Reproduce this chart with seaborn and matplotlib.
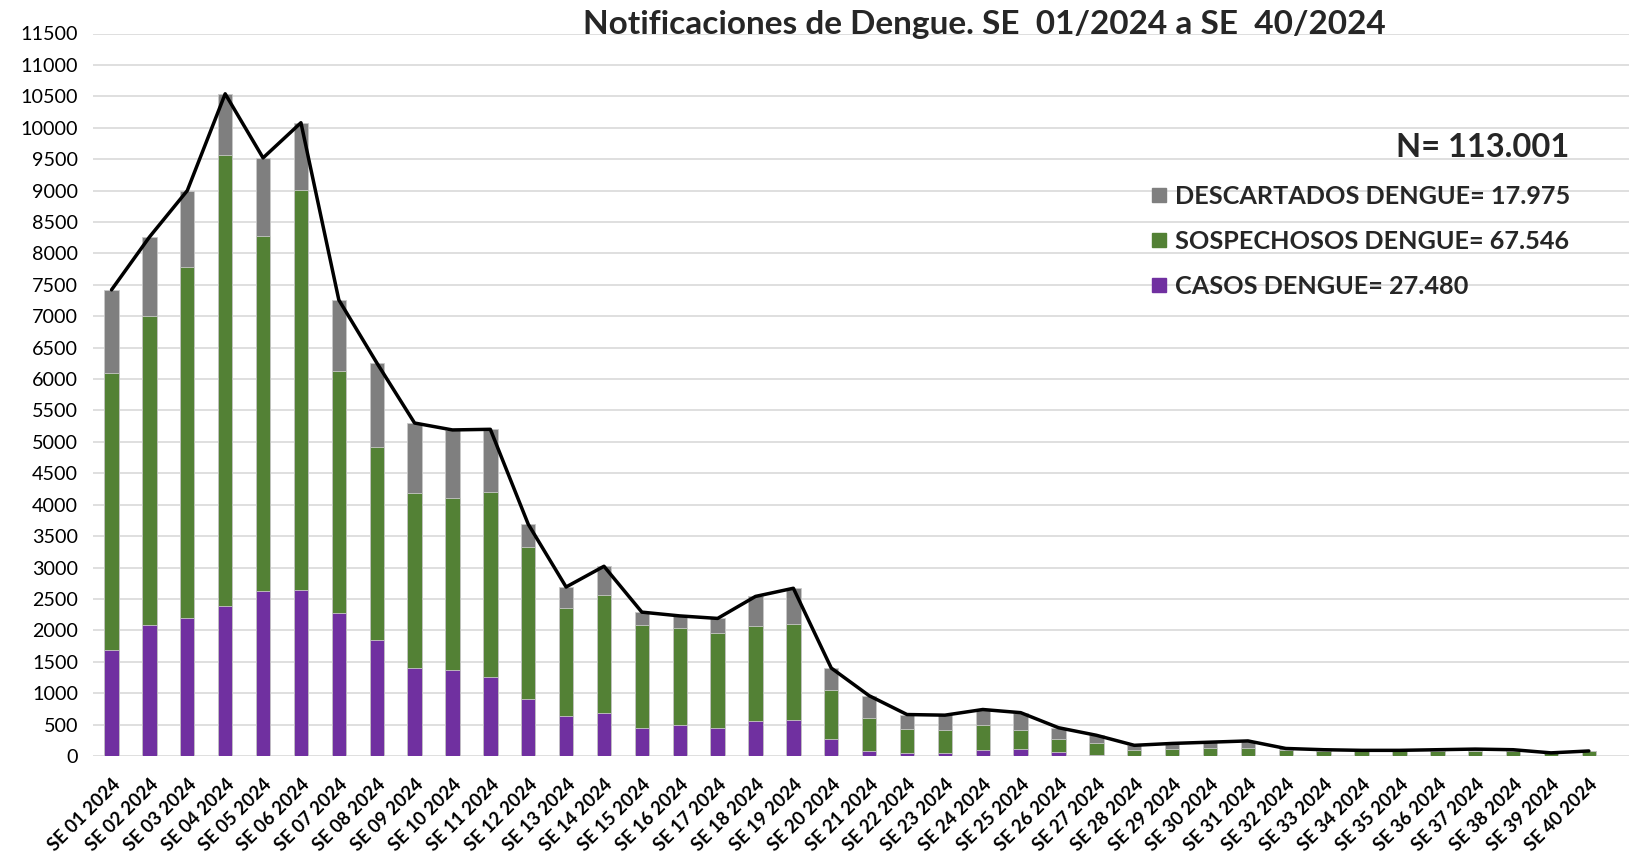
import matplotlib
matplotlib.use('Agg')
import matplotlib.pyplot as plt
import seaborn as sns
import numpy as np
import pandas as pd
from matplotlib.lines import Line2D

# semanas epidemiologicas
semanas = ['SE 01 2024', 'SE 02 2024', 'SE 03 2024', 'SE 04 2024', 'SE 05 2024',
           'SE 06 2024', 'SE 07 2024', 'SE 08 2024', 'SE 09 2024', 'SE 10 2024',
           'SE 11 2024', 'SE 12 2024', 'SE 13 2024', 'SE 14 2024', 'SE 15 2024',
           'SE 16 2024', 'SE 17 2024', 'SE 18 2024', 'SE 19 2024', 'SE 20 2024',
           'SE 21 2024', 'SE 22 2024', 'SE 23 2024', 'SE 24 2024', 'SE 25 2024',
           'SE 26 2024', 'SE 27 2024', 'SE 28 2024', 'SE 29 2024', 'SE 30 2024',
           'SE 31 2024', 'SE 32 2024', 'SE 33 2024', 'SE 34 2024', 'SE 35 2024',
           'SE 36 2024', 'SE 37 2024', 'SE 38 2024', 'SE 39 2024', 'SE 40 2024']

casos = [1680, 2090, 2200, 2390, 2630, 2640, 2270, 1850, 1400, 1370,
         1260, 900, 640, 690, 440, 490, 450, 560, 580, 270,
         80, 50, 40, 100, 110, 70, 20, 0, 0, 0,
         0, 0, 0, 0, 0, 0, 0, 0, 0, 0]
sospechosos = [4420, 4910, 5590, 7180, 5650, 6370, 3860, 3070, 2790, 2730,
               2950, 2430, 1710, 1870, 1650, 1540, 1510, 1510, 1520, 780,
               520, 380, 370, 390, 300, 200, 190, 90, 110, 130,
               130, 90, 80, 80, 80, 80, 80, 80, 40, 80]
descartados = [1320, 1260, 1210, 970, 1240, 1070, 1130, 1340, 1110, 1090,
               990, 360, 340, 460, 200, 200, 230, 470, 570, 350,
               360, 230, 240, 250, 280, 180, 120, 80, 90, 90,
               110, 30, 20, 10, 10, 20, 30, 20, 10, 0]

df = pd.DataFrame({'semana': semanas, 'casos': casos,
                   'sospechosos': sospechosos, 'descartados': descartados})
df['tope_sosp'] = df['casos'] + df['sospechosos']
df['total'] = df['tope_sosp'] + df['descartados']
df['pos'] = np.arange(len(df))

c_gris = '#7f7f7f'
c_verde = '#538135'
c_violeta = '#7030a0'

sns.set_theme(style='white')
plt.rcParams['font.family'] = ['Lato', 'DejaVu Sans']

fig = plt.figure(figsize=(16.29, 8.58), dpi=100)
ax = fig.add_axes([92.6 / 1629, 1 - 756 / 858, 1 - 92.6 / 1629, (756 - 33.5) / 858])

# barras apiladas: se dibujan los acumulados de mayor a menor
kw = dict(width=0.38, saturation=1, edgecolor='#c8c8c8', linewidth=0.6, ax=ax, zorder=2)
sns.barplot(data=df, x='semana', y='total', color=c_gris, **kw)
sns.barplot(data=df, x='semana', y='tope_sosp', color=c_verde, **kw)
sns.barplot(data=df, x='semana', y='casos', color=c_violeta, **kw)

sns.lineplot(data=df, x='pos', y='total', color='black', linewidth=2.5, ax=ax, zorder=3)

ax.set_ylim(0, 11500)
ax.set_xlim(-0.5, 40.06)
ax.set_yticks(np.arange(0, 11501, 500))
ax.yaxis.grid(True, color='#d9d9d9', linewidth=1.2, zorder=0)
ax.set_axisbelow(True)
for s in ax.spines.values():
    s.set_visible(False)
ax.set_xlabel('')
ax.set_ylabel('')
ax.tick_params(axis='y', length=0, pad=10.5, labelsize=14.2, labelcolor='black')
ax.tick_params(axis='x', length=0, pad=14, labelcolor='black')
ax.set_xticks(df['pos'])
ax.set_xticklabels(semanas, rotation=45, ha='right', rotation_mode='anchor',
                   fontsize=13.2, fontweight='bold')

fig.text(0.604, 0.972, 'Notificaciones de Dengue. SE  01/2024 a SE  40/2024',
         ha='center', va='center', fontsize=24, fontweight='bold')
fig.text(1569 / 1629, 1 - 148 / 858, 'N= 113.001', ha='right', va='center',
         fontsize=23.5, fontweight='bold')

handles = [Line2D([], [], marker='s', linestyle='', color=c, markersize=10.5)
           for c in (c_gris, c_verde, c_violeta)]
labels = ['DESCARTADOS DENGUE= 17.975', 'SOSPECHOSOS DENGUE= 67.546',
          'CASOS DENGUE= 27.480']
leg = fig.legend(handles, labels, loc='upper left',
                 bbox_to_anchor=(1136 / 1629, 1 - 172.5 / 858), frameon=False,
                 prop={'size': 18.2, 'weight': 'bold'}, handlelength=0.8,
                 handletextpad=0.25, labelspacing=0.86, borderpad=0)

fig.savefig('out.png', dpi=100)
